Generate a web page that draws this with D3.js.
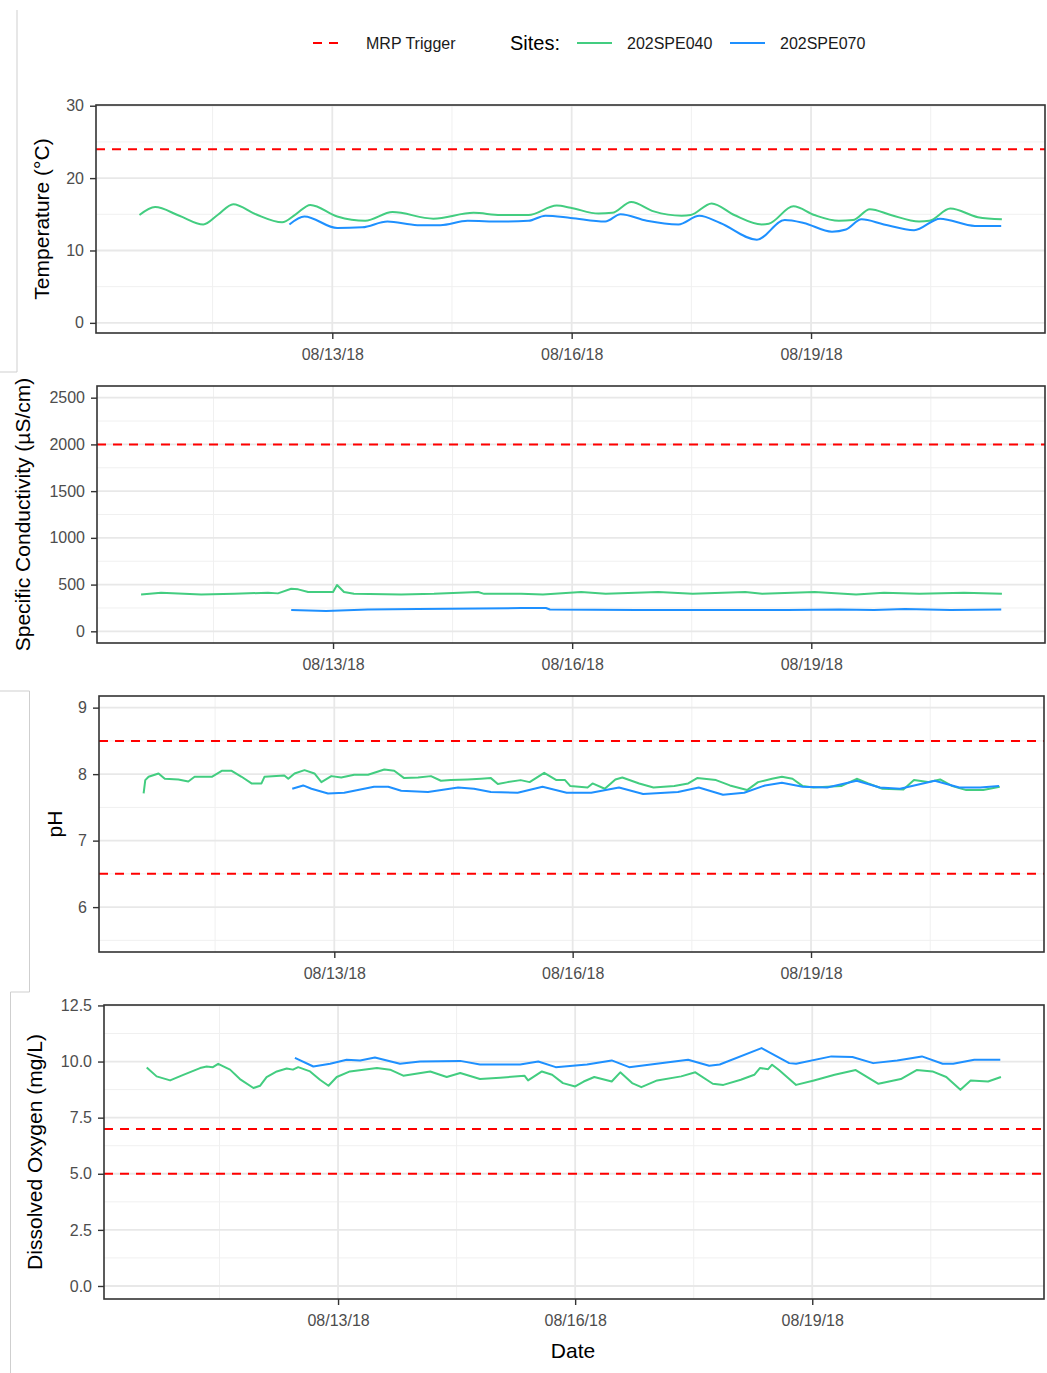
<!DOCTYPE html>
<html>
<head>
<meta charset="utf-8">
<script src="https://cdn.jsdelivr.net/npm/d3@7"></script>
<style>
  body { margin: 0; background: #fff; }
  svg text { font-family: "Liberation Sans", Arial, sans-serif; }
</style>
</head>
<body>
<div class="canvas"></div>
<script>
// each point: [hours after 2018-08-10 00:00, value]
const tempG = [[14.0,14.9],[18.7,16.0],[26,14.8],[33.2,13.6],[37.5,14.9],[42.2,16.4],[49,15.0],[56.9,13.9],[61,15.0],[65.4,16.3],[73.5,14.7],[81.9,14.1],[90.1,15.3],[102.4,14.4],[114.5,15.2],[122.6,14.9],[131.0,14.9],[139.5,16.2],[143.7,15.9],[152.1,15.1],[156.2,15.2],[161.9,16.7],[168.7,15.4],[177.1,14.8],[179.8,14.9],[186.1,16.5],[192.9,14.9],[201.2,13.6],[203.3,13.7],[210.7,16.1],[217.0,14.9],[224.4,14.1],[228.6,14.2],[233.7,15.7],[240.0,14.9],[248.5,14.0],[251.6,14.1],[257.9,15.8],[266.2,14.6],[273.4,14.3]];
const tempB = [[59.1,13.6],[63.6,14.7],[73.5,13.1],[81.0,13.2],[88.6,14.0],[97.6,13.5],[104.5,13.5],[112.7,14.1],[122.6,14.0],[131.0,14.1],[136.1,14.8],[143.7,14.5],[154.1,14.0],[158.7,15.0],[166.6,14.1],[176.1,13.6],[182.4,14.8],[188.7,13.8],[199.7,11.5],[208.1,14.2],[213.8,13.8],[222.3,12.6],[226.5,12.9],[231.2,14.3],[237.9,13.6],[247.0,12.8],[254.8,14.4],[265.3,13.4],[273.2,13.4]];

const condG = [[14.2,395],[20.2,413],[32.3,395],[42.2,401],[52.4,413],[55.4,406],[59.4,456],[61.5,449],[64.5,420],[70.5,420],[72.0,420],[73.2,495],[75.3,420],[78.3,401],[92.5,395],[102.4,401],[115.7,420],[117.5,401],[128.6,401],[135.2,395],[146.7,420],[154.1,401],[169.9,420],[180.3,401],[196.1,420],[201.2,401],[217.0,420],[229.5,395],[237.9,413],[248.5,401],[262.0,413],[273.4,401]];
const condB = [[59.4,228],[69.9,217],[82.5,233],[97.6,240],[128.6,249],[136.1,249],[137.3,233],[163.5,228],[185.5,228],[208.7,228],[224.4,233],[234.9,228],[244.2,240],[257.9,228],[273.2,233]];

const phG = [[14.4,7.71],[14.9,7.91],[15.9,7.96],[18.9,8.01],[20.8,7.93],[24.9,7.92],[27.9,7.89],[29.8,7.96],[35.0,7.96],[38.0,8.05],[41.0,8.05],[44.0,7.96],[47.0,7.86],[50.0,7.86],[50.9,7.96],[56.9,7.98],[58.1,7.93],[60.0,8.01],[63.0,8.06],[66.0,8.01],[68.1,7.88],[71.1,7.97],[74.1,7.95],[78.0,7.99],[82.2,7.99],[87.1,8.07],[90.1,8.05],[93.1,7.94],[97.3,7.95],[101.2,7.97],[104.2,7.90],[107.2,7.91],[112.3,7.92],[116.3,7.93],[119.3,7.94],[121.4,7.85],[124.4,7.88],[128.3,7.91],[131.0,7.88],[135.4,8.02],[139.1,7.91],[141.7,7.91],[143.3,7.82],[148.5,7.80],[150.0,7.86],[153.7,7.78],[156.9,7.92],[159.0,7.95],[164.1,7.86],[168.4,7.80],[174.7,7.82],[178.9,7.86],[181.6,7.94],[187.3,7.91],[191.5,7.83],[196.7,7.76],[200.0,7.88],[204.2,7.93],[207.2,7.96],[210.4,7.93],[213.5,7.82],[216.7,7.80],[220.9,7.81],[225.1,7.82],[229.8,7.93],[233.3,7.86],[237.6,7.78],[243.9,7.77],[247.1,7.91],[251.3,7.88],[255.0,7.92],[258.7,7.82],[262.9,7.76],[268.0,7.76],[273.0,7.81]];
const phB = [[59.3,7.78],[62.6,7.83],[65.1,7.78],[70.1,7.71],[75.0,7.72],[84.0,7.81],[88.3,7.81],[92.2,7.75],[100.3,7.73],[109.4,7.80],[114.2,7.78],[119.3,7.73],[127.4,7.72],[134.9,7.81],[142.2,7.72],[149.6,7.72],[158.0,7.80],[165.3,7.70],[175.8,7.73],[182.1,7.80],[189.4,7.69],[195.8,7.72],[202.1,7.83],[207.2,7.87],[213.5,7.81],[220.9,7.80],[229.8,7.90],[236.8,7.80],[242.9,7.78],[253.4,7.90],[260.8,7.80],[267.1,7.80],[272.8,7.82]];

const doG = [[13.9,9.74],[16.9,9.34],[21.0,9.16],[25.0,9.41],[30.1,9.71],[32.1,9.78],[34.0,9.75],[35.6,9.90],[39.2,9.64],[42.2,9.22],[46.3,8.82],[48.3,8.92],[50.3,9.31],[53.4,9.56],[56.4,9.69],[58.3,9.64],[59.9,9.75],[63.5,9.56],[66.5,9.19],[69.1,8.92],[71.6,9.31],[75.6,9.56],[83.8,9.71],[87.8,9.64],[91.8,9.37],[100.0,9.56],[105.0,9.31],[109.1,9.49],[115.1,9.22],[121.2,9.28],[128.6,9.37],[129.7,9.16],[133.9,9.56],[137.0,9.41],[140.3,9.04],[144.0,8.89],[146.6,9.11],[149.8,9.31],[155.1,9.11],[157.7,9.52],[161.3,9.04],[164.1,8.86],[168.9,9.16],[176.2,9.34],[180.5,9.52],[185.8,9.01],[189.0,8.96],[194.3,9.19],[198.4,9.41],[200.1,9.71],[202.6,9.66],[203.8,9.86],[205.9,9.62],[211.1,8.96],[216.5,9.16],[222.8,9.41],[229.2,9.62],[236.1,9.01],[242.9,9.22],[247.7,9.62],[252.5,9.56],[256.7,9.31],[261.0,8.74],[264.1,9.16],[269.4,9.11],[273.3,9.31]];
const doB = [[58.9,10.16],[64.5,9.78],[69.6,9.90],[74.6,10.08],[78.7,10.05],[83.2,10.18],[90.8,9.90],[96.9,10.0],[109.1,10.03],[115.1,9.87],[127.3,9.87],[132.8,10.0],[138.1,9.75],[147.6,9.87],[155.1,10.05],[160.4,9.75],[178.3,10.08],[184.7,9.81],[187.9,9.87],[200.6,10.60],[209.0,9.93],[211.1,9.90],[221.8,10.23],[228.2,10.20],[234.5,9.93],[241.8,10.05],[249.3,10.23],[255.6,9.90],[258.8,9.90],[265.2,10.08],[273.1,10.08]];

const siteNames = ['202SPE040', '202SPE070'];
const siteColors = ['#43CD80', '#1E90FF'];
const xTickDates = ['2018-08-13 00:00', '2018-08-16 00:00', '2018-08-19 00:00'];
const xMinorDates = ['2018-08-11 12:00', '2018-08-14 12:00', '2018-08-17 12:00', '2018-08-20 12:00'];

const tempTicks = [0, 10, 20, 30];
const condTicks = [0, 500, 1000, 1500, 2000, 2500];
const phTicks = [6, 7, 8, 9];
const doTicks = [0, 2.5, 5, 7.5, 10, 12.5];

const tempTrigger = [24];
const condTrigger = [2000];
const phTrigger = [8.5, 6.5];
const doTrigger = [7, 5];

const base = new Date(2018, 7, 10).getTime();
const toDate = h => new Date(base + h * 3600e3);
const parse = d3.timeParse('%Y-%m-%d %H:%M');

const svg = d3.select('.canvas')
  .append('svg')
  .attr('width', 1047)
  .attr('height', 1373);

// x domain: data extent + 5% each side (ggplot default)
const allHours = [tempG, tempB, condG, condB, phG, phB, doG, doB].flat().map(d => d[0]);
const hMin = d3.min(allHours), hMax = d3.max(allHours);
const pad = (hMax - hMin) * 0.05;
const xDomain = [toDate(hMin - pad), toDate(hMax + pad)];

const minorOf = ticks => d3.pairs(ticks).map(([a, b]) => (a + b) / 2);

const panels = [
  {left: 96, right: 1045, top: 105, bottom: 333, yDomain: [-1.4, 30.1], ticks: tempTicks,
   fmt: d3.format('d'), trig: tempTrigger, series: [tempG, tempB], curve: d3.curveMonotoneX,
   title: 'Temperature (°C)', titleX: 42},
  {left: 97, right: 1045, top: 386, bottom: 643, yDomain: [-125, 2625], ticks: condTicks,
   fmt: d3.format('d'), trig: condTrigger, series: [condG, condB], curve: d3.curveLinear,
   title: 'Specific Conductivity (µS/cm)', titleX: 23},
  {left: 99, right: 1044, top: 696, bottom: 952, yDomain: [5.325, 9.175], ticks: phTicks,
   fmt: d3.format('d'), trig: phTrigger, series: [phG, phB], curve: d3.curveLinear,
   title: 'pH', titleX: 55, extraMinor: [5.5]},
  {left: 104, right: 1044, top: 1005, bottom: 1299, yDomain: [-0.58, 12.52], ticks: doTicks,
   fmt: d3.format('.1f'), trig: doTrigger, series: [doG, doB], curve: d3.curveLinear,
   title: 'Dissolved Oxygen (mg/L)', titleX: 35}
];

const drawPanel = (p) => {
  const g = svg.append('g');
  const x = d3.scaleTime().domain(xDomain).range([p.left, p.right]);
  const y = d3.scaleLinear().domain(p.yDomain).range([p.bottom, p.top]);

  const yMinor = minorOf(p.ticks).concat(p.extraMinor || []);
  const xMajor = xTickDates.map(parse);
  const xMinor = xMinorDates.map(parse);

  // grid
  g.selectAll('.ymin').data(yMinor).enter().append('line')
    .attr('x1', p.left).attr('x2', p.right)
    .attr('y1', d => y(d)).attr('y2', d => y(d))
    .attr('stroke', '#f0f0f0').attr('stroke-width', 1);
  g.selectAll('.xmin').data(xMinor).enter().append('line')
    .attr('x1', d => x(d)).attr('x2', d => x(d))
    .attr('y1', p.top).attr('y2', p.bottom)
    .attr('stroke', '#f0f0f0').attr('stroke-width', 1);
  g.selectAll('.ymaj').data(p.ticks).enter().append('line')
    .attr('x1', p.left).attr('x2', p.right)
    .attr('y1', d => y(d)).attr('y2', d => y(d))
    .attr('stroke', '#e8e8e8').attr('stroke-width', 1.8);
  g.selectAll('.xmaj').data(xMajor).enter().append('line')
    .attr('x1', d => x(d)).attr('x2', d => x(d))
    .attr('y1', p.top).attr('y2', p.bottom)
    .attr('stroke', '#e8e8e8').attr('stroke-width', 1.8);

  // trigger lines
  g.selectAll('.trig').data(p.trig).enter().append('line')
    .attr('x1', p.left).attr('x2', p.right)
    .attr('y1', d => y(d)).attr('y2', d => y(d))
    .attr('stroke', '#ff0000').attr('stroke-width', 2)
    .attr('stroke-dasharray', '9,7');

  // series
  const line = d3.line()
    .x(d => x(toDate(d[0])))
    .y(d => y(d[1]))
    .curve(p.curve);
  p.series.forEach((s, i) => {
    g.append('path')
      .datum(s)
      .attr('d', line)
      .attr('fill', 'none')
      .attr('stroke', siteColors[i])
      .attr('stroke-width', 2)
      .attr('stroke-linejoin', 'round');
  });

  // border
  g.append('rect')
    .attr('x', p.left).attr('y', p.top)
    .attr('width', p.right - p.left).attr('height', p.bottom - p.top)
    .attr('fill', 'none').attr('stroke', '#333').attr('stroke-width', 1.6);

  // axes
  const xAxis = d3.axisBottom(x)
    .tickValues(xMajor)
    .tickFormat(d3.timeFormat('%m/%d/%y'))
    .tickSize(6).tickSizeOuter(0).tickPadding(10);
  const xg = g.append('g')
    .attr('transform', `translate(0, ${p.bottom})`)
    .call(xAxis);

  const yAxis = d3.axisLeft(y)
    .tickValues(p.ticks)
    .tickFormat(p.fmt)
    .tickSize(6).tickSizeOuter(0).tickPadding(6);
  const yg = g.append('g')
    .attr('transform', `translate(${p.left}, 0)`)
    .call(yAxis);

  [xg, yg].forEach(a => {
    a.select('.domain').remove();
    a.selectAll('line').attr('stroke', '#333').attr('stroke-width', 1.4);
    a.selectAll('text').attr('fill', '#4d4d4d').attr('font-size', '16px')
      .style('font-family', '"Liberation Sans", Arial, sans-serif');
  });

  // y title
  g.append('text')
    .attr('transform', `translate(${p.titleX}, ${(p.top + p.bottom) / 2}) rotate(-90)`)
    .attr('text-anchor', 'middle')
    .attr('dy', '0.35em')
    .attr('font-size', '21px')
    .attr('fill', '#000')
    .text(p.title);
};

panels.forEach(drawPanel);

// x title
svg.append('text')
  .attr('x', 573).attr('y', 1358)
  .attr('text-anchor', 'middle')
  .attr('font-size', '21px')
  .attr('fill', '#000')
  .text('Date');

// legend
const legend = svg.append('g').attr('transform', 'translate(0, 43)');
legend.append('line')
  .attr('x1', 313).attr('x2', 345).attr('y1', 0).attr('y2', 0)
  .attr('stroke', '#ff0000').attr('stroke-width', 2).attr('stroke-dasharray', '9,7');
legend.append('text')
  .attr('x', 366).attr('y', 6)
  .attr('font-size', '16px').attr('fill', '#1a1a1a')
  .text('MRP Trigger');
legend.append('text')
  .attr('x', 510).attr('y', 7)
  .attr('font-size', '20px').attr('fill', '#000')
  .text('Sites:');
const legendX = [577, 730];
siteNames.forEach((name, i) => {
  legend.append('line')
    .attr('x1', legendX[i]).attr('x2', legendX[i] + 35).attr('y1', 0).attr('y2', 0)
    .attr('stroke', siteColors[i]).attr('stroke-width', 2.2);
  legend.append('text')
    .attr('x', legendX[i] + 50).attr('y', 6)
    .attr('font-size', '16px').attr('fill', '#1a1a1a')
    .text(name);
});

// faint crop edges from the stitched screenshots
const edges = [
  [17, 10, 17, 372], [0, 372, 17, 372],
  [29.5, 691, 29.5, 992], [0, 691, 29.5, 691], [10.5, 992, 29.5, 992],
  [10.5, 992, 10.5, 1373]
];
svg.selectAll('.edge').data(edges).enter().append('line')
  .attr('x1', d => d[0]).attr('y1', d => d[1])
  .attr('x2', d => d[2]).attr('y2', d => d[3])
  .attr('stroke', '#cfcfcf').attr('stroke-width', 1);
</script>
</body>
</html>
